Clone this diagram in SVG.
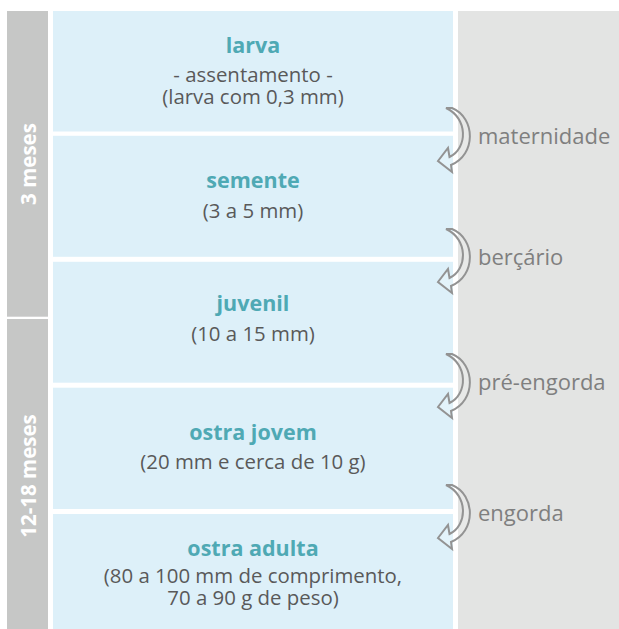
<svg xmlns="http://www.w3.org/2000/svg" xmlns:xlink="http://www.w3.org/1999/xlink" width="619" height="629" viewBox="0 0 619 629">
<style>
.per{fill:#c6c7c6}
.stage{fill:#ddf0f9}
.side{fill:#e3e4e3}
.pl{font-family:"Open Sans","Noto Sans",sans-serif;font-weight:bold;font-size:20.5px;fill:#ffffff;text-anchor:middle;dominant-baseline:central}
.t{font-family:"Open Sans","Noto Sans",sans-serif;font-weight:bold;font-size:21.5px;fill:#4fa9b4;text-anchor:middle}
.s{font-family:"Open Sans","Noto Sans",sans-serif;font-size:20.4px;fill:#595959;text-anchor:middle}
.lab{font-family:"Open Sans","Noto Sans",sans-serif;font-size:22px;fill:#7f7f7f}
.arr{fill:#ffffff;fill-opacity:0.2;stroke:#939393;stroke-width:2;stroke-linejoin:miter}
</style>
<defs>
<path id="curv" d="M446,-29 L452,-29 C476,-19 476,18 451,28 L452,35 L438,24 L448,11 L449.5,20 C468,11 468,-19 446,-29 Z"/>
</defs>
<rect class="side" x="458" y="11" width="161" height="618"/>
<g id="period-3">
<rect class="per" x="7" y="11" width="41" height="305.7"/>
<text class="pl" transform="translate(28,164) rotate(-90)">3 meses</text>
</g>
<g id="period-12-18">
<rect class="per" x="7" y="319" width="41" height="310"/>
<text class="pl" transform="translate(28,476) rotate(-90)">12-18 meses</text>
</g>
<g id="larva">
<rect class="stage" x="53" y="11" width="400" height="120.5"/>
<text class="t" x="253" y="53">larva</text>
<text class="s" x="253" y="82">- assentamento -<tspan x="253" dy="22">(larva com 0,3 mm)</tspan></text>
</g>
<g id="semente">
<rect class="stage" x="53" y="135.8" width="400" height="121"/>
<text class="t" x="253" y="188">semente</text>
<text class="s" x="253" y="218">(3 a 5 mm)</text>
</g>
<g id="juvenil">
<rect class="stage" x="53" y="261.8" width="400" height="120.9"/>
<text class="t" x="253" y="311">juvenil</text>
<text class="s" x="253" y="341">(10 a 15 mm)</text>
</g>
<g id="ostra-jovem">
<rect class="stage" x="53" y="387.7" width="400" height="121.3"/>
<text class="t" x="253" y="440">ostra jovem</text>
<text class="s" x="253" y="469">(20 mm e cerca de 10 g)</text>
</g>
<g id="ostra-adulta">
<rect class="stage" x="53" y="514" width="400" height="115"/>
<text class="t" x="253" y="556">ostra adulta</text>
<text class="s" x="253" y="583">(80 a 100 mm de comprimento,<tspan x="253" dy="22">70 a 90 g de peso)</tspan></text>
</g>
<g id="connectors">
<use xlink:href="#curv" class="arr" transform="translate(0,137)"/>
<text class="lab" x="478" y="144">maternidade</text>
<use xlink:href="#curv" class="arr" transform="translate(0,258)"/>
<text class="lab" x="478" y="265">berçário</text>
<use xlink:href="#curv" class="arr" transform="translate(0,383)"/>
<text class="lab" x="478" y="390">pré-engorda</text>
<use xlink:href="#curv" class="arr" transform="translate(0,514)"/>
<text class="lab" x="478" y="521">engorda</text>
</g>
</svg>
